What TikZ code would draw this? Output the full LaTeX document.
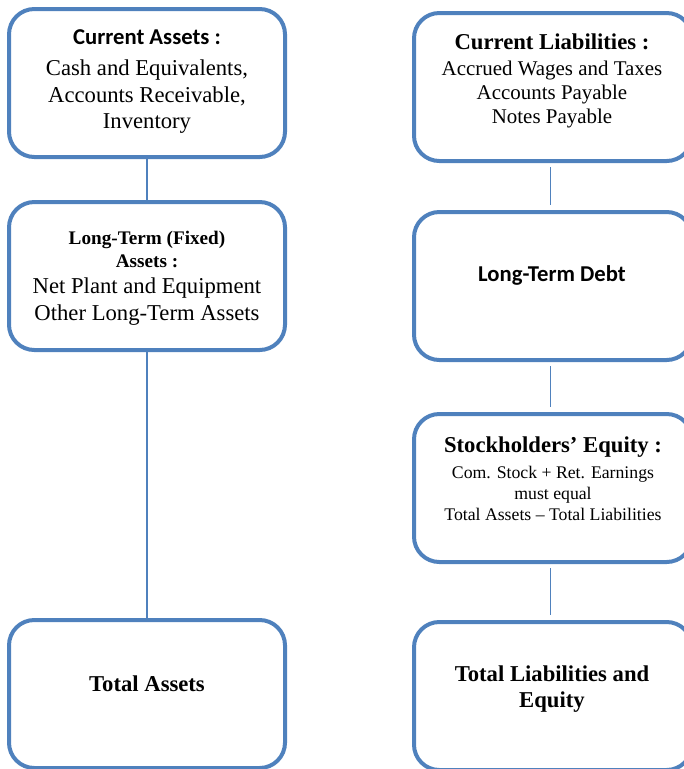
\documentclass[tikz,border=0pt]{standalone}
\usepackage{fontspec}
\setmainfont{Liberation Serif}
\newfontfamily\calibri{Carlito}
\definecolor{boxblue}{RGB}{79,129,189}

\begin{document}
\begin{tikzpicture}[x=0.75pt, y=-0.75pt,
  box/.style={draw=boxblue, line width=3pt, rounded corners=19pt, minimum width=207pt, minimum height=111pt, inner sep=0pt},
  link/.style={draw=boxblue, line width=1pt},
  txt/.style={align=center, inner sep=0pt, font=\fontsize{17}{20}\selectfont}]
\useasboundingbox (0,0) rectangle (684,769);
\clip (0,0) rectangle (684,769);
% assets side
\node[box] (ca) at (147,83) {};
\node[box] (lta) at (147,276) {};
\node[box] (ta) at (147,694) {};
\node[txt] (catxt) at (147,82) {{\calibri\bfseries Current Assets :}\\[3pt]Cash and Equivalents,\\Accounts Receivable,\\Inventory};
\node[txt] (ltatxt) at (147,278) {{\fontsize{14.4}{17}\selectfont\bfseries Long-Term (Fixed)}\\[-2.75pt]{\fontsize{14.4}{17}\selectfont\bfseries Assets :}\\Net Plant and Equipment\\Other Long-Term Assets};
\node[txt, font=\fontsize{17}{20}\selectfont\bfseries] (tatxt) at (147,684) {Total Assets};
\draw[link] (ca.south) -- (lta.north);
\draw[link] (lta.south) -- (ta.north);
% liabilities side
\node[box, minimum width=208.5pt] (cl) at (553,87) {};
\node[box, minimum width=208.5pt] (ltd) at (553,286) {};
\node[box, minimum width=208.5pt] (se) at (553,488) {};
\node[box, minimum width=208.5pt] (tle) at (553,696) {};
\node[txt, font=\fontsize{15.7}{18}\selectfont] (cltxt) at (552,81) {{\fontsize{17}{20}\selectfont\bfseries Current Liabilities :}\\[2pt]Accrued Wages and Taxes\\Accounts Payable\\Notes Payable};
\node[txt, font=\fontsize{17}{20}\selectfont\calibri\bfseries] (ltdtxt) at (552,275) {Long-Term Debt};
\node[txt, font=\fontsize{13.3}{16}\selectfont] (setxt) at (553,479) {{\fontsize{17}{20}\selectfont\bfseries Stockholders’ Equity :}\\[3pt]Com. Stock + Ret. Earnings\\must equal\\Total Assets – Total Liabilities};
\node[txt, font=\fontsize{17}{20}\selectfont\bfseries] (tletxt) at (552,689) {Total Liabilities and\\Equity};
\draw[link, shorten <=3pt, shorten >=4pt] ([xshift=-2pt]cl.south) -- ([xshift=-2pt]ltd.north);
\draw[link, shorten <=3pt, shorten >=4pt] ([xshift=-2pt]ltd.south) -- ([xshift=-2pt]se.north);
\draw[link, shorten <=3pt, shorten >=4pt] ([xshift=-2pt]se.south) -- ([xshift=-2pt]tle.north);
\end{tikzpicture}
\end{document}
